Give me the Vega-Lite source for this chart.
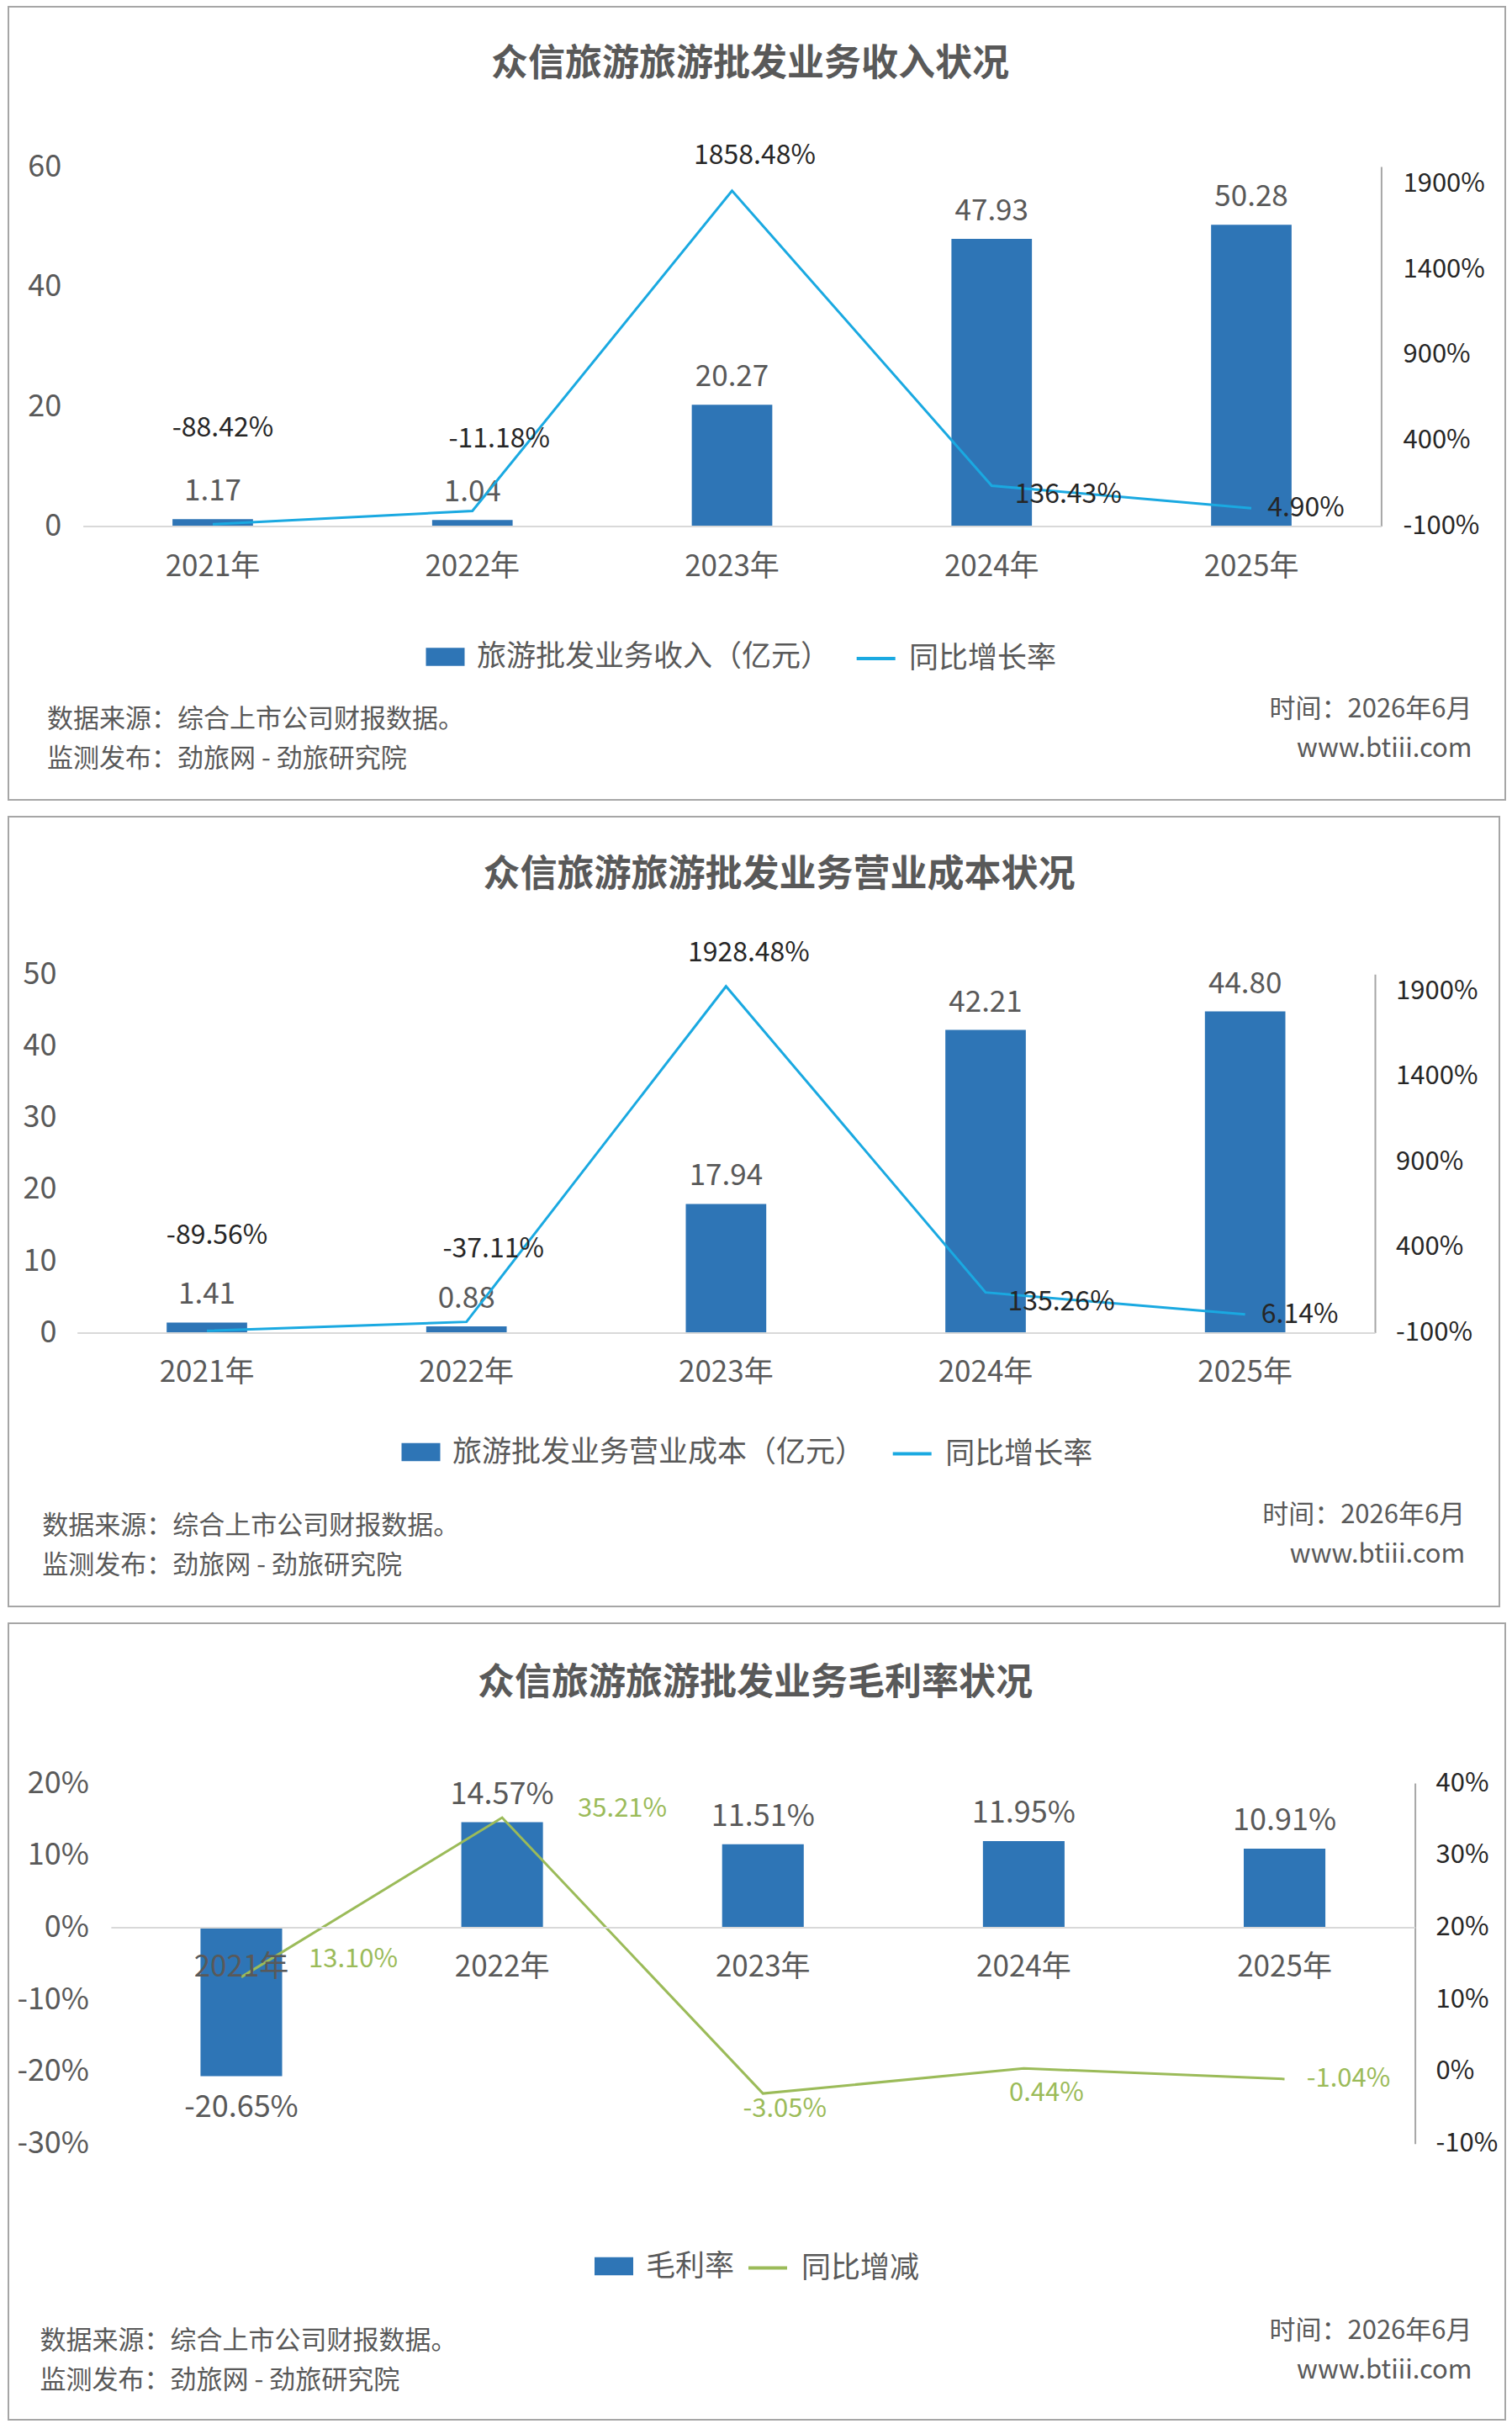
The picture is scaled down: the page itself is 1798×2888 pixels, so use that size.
{
  "$schema": "https://vega.github.io/schema/vega-lite/v6.json",
  "padding": {"left": 9, "top": 7, "right": 4, "bottom": 4},
  "background": "white",
  "config": {
    "font": "Noto Sans CJK SC",
    "view": {"stroke": "#A6A6A6", "strokeWidth": 2, "fill": "white"},
    "locale": {"number": {"decimal": ".", "thousands": ",", "grouping": [3], "currency": ["¥", ""], "minus": "-"}},
    "axis": {"grid": false, "labelFont": "Noto Sans CJK SC", "titleFont": "Noto Sans CJK SC", "labelLimit": 1000, "titleLimit": 1000},
    "legend": {"labelFont": "Noto Sans CJK SC", "labelLimit": 1000},
    "title": {"font": "Noto Sans CJK SC"}
  },
  "datasets": {
    "revenue": [
      {"year": "2021年", "value": 1.17, "rate": -0.8842},
      {"year": "2022年", "value": 1.04, "rate": -0.1118},
      {"year": "2023年", "value": 20.27, "rate": 18.5848},
      {"year": "2024年", "value": 47.93, "rate": 1.3643},
      {"year": "2025年", "value": 50.28, "rate": 0.049}
    ],
    "cost": [
      {"year": "2021年", "value": 1.41, "rate": -0.8956},
      {"year": "2022年", "value": 0.88, "rate": -0.3711},
      {"year": "2023年", "value": 17.94, "rate": 19.2848},
      {"year": "2024年", "value": 42.21, "rate": 1.3526},
      {"year": "2025年", "value": 44.8, "rate": 0.0614}
    ],
    "margin": [
      {"year": "2021年", "value": -0.2065, "rate": 0.131},
      {"year": "2022年", "value": 0.1457, "rate": 0.3521},
      {"year": "2023年", "value": 0.1151, "rate": -0.0305},
      {"year": "2024年", "value": 0.1195, "rate": 0.0044},
      {"year": "2025年", "value": 0.1091, "rate": -0.0104}
    ]
  },
  "spacing": 20,
  "bounds": "flush",
  "resolve": {
    "scale": {"x": "independent", "y": "independent", "fill": "independent", "stroke": "independent"},
    "legend": {"fill": "independent", "stroke": "independent"}
  },
  "vconcat": [
    {
      "width": 1780,
      "height": 943,
      "data": {"name": "revenue"},
      "title": {"text": "众信旅游旅游批发业务收入状况", "fontSize": 44, "fontWeight": "bold", "color": "#595959", "anchor": "middle", "frame": "group", "baseline": "middle", "offset": -113, "dx": -8},
      "encoding": {
        "x": {
          "field": "year", "type": "nominal", "sort": null,
          "scale": {"range": [88.6, 1632.4], "paddingInner": 0, "paddingOuter": 0},
          "axis": {"orient": "bottom", "offset": -325.4, "title": null, "labelFontSize": 35, "labelColor": "#595959", "labelPadding": 48, "labelBaseline": "middle", "labelAngle": 0, "ticks": false, "domain": true, "domainColor": "#D9D9D9", "domainWidth": 2, "zindex": 1}
        }
      },
      "layer": [
        {
          "encoding": {
            "y": {
              "field": "value", "type": "quantitative",
              "scale": {"domain": [0, 60], "range": [617.6, 190], "nice": false, "zero": false},
              "axis": {"orient": "left", "offset": -88.6, "values": [0, 20, 40, 60], "labelPadding": 25.8, "labelFontSize": 36, "labelColor": "#595959", "domain": false, "ticks": false,
                "title": ["数据来源：综合上市公司财报数据。", "监测发布：劲旅网 - 劲旅研究院"], "titleAngle": 0, "titleAlign": "left", "titleBaseline": "middle", "titleX": -43.1, "titleY": 847.2, "titleFontSize": 31, "titleFontWeight": "normal", "titleColor": "#595959", "titleLineHeight": 47}
            }
          },
          "layer": [
            {
              "mark": {"type": "bar", "width": {"band": 0.31}},
              "encoding": {
                "fill": {"datum": "旅游批发业务收入（亿元）", "scale": {"range": ["#2E75B6"]},
                  "legend": {"title": null, "orient": "none", "legendX": 496.5, "legendY": 750, "symbolType": "M-1,-0.467H1V0.467H-1Z", "symbolSize": 2116, "symbolStrokeWidth": 0, "labelFontSize": 35, "labelColor": "#595959", "labelOffset": 14.4, "padding": 0}}
              }
            },
            {
              "mark": {"type": "text", "dy": -33, "fontSize": 35, "color": "#595959"},
              "encoding": {"text": {"field": "value", "format": ".2f"}}
            }
          ]
        },
        {
          "encoding": {
            "y": {
              "field": "rate", "type": "quantitative",
              "scale": {"domain": [-1, 20], "range": [617.6, 190], "nice": false, "zero": false},
              "axis": {"orient": "right", "offset": -147.6, "values": [-1, 4, 9, 14, 19], "format": ".0%", "labelPadding": 25.6, "labelFontSize": 31, "labelColor": "#262626", "domain": true, "domainColor": "#A6A6A6", "domainWidth": 2, "ticks": false,
                "title": ["时间：2026年6月", "www.btiii.com"], "titleAngle": 0, "titleAlign": "right", "titleBaseline": "middle", "titleX": 107.6, "titleY": 835, "titleFontSize": 31, "titleFontWeight": "normal", "titleColor": "#595959", "titleLineHeight": 47}
            }
          },
          "layer": [
            {
              "mark": {"type": "line", "strokeWidth": 3},
              "encoding": {
                "stroke": {"datum": "同比增长率", "scale": {"range": ["#1AA9E1"]},
                  "legend": {"title": null, "orient": "none", "legendX": 1006.7, "legendY": 750, "symbolType": "stroke", "symbolSize": 2116, "symbolStrokeWidth": 4, "labelFontSize": 35, "labelColor": "#595959", "labelOffset": 14.4, "padding": 0}}
              }
            },
            {"transform": [{"filter": "datum.year === '2021年'"}], "mark": {"type": "text", "dx": 12, "dy": -114, "fontSize": 32, "color": "#262626"}, "encoding": {"text": {"field": "rate", "format": ".2%"}}},
            {"transform": [{"filter": "datum.year === '2022年'"}], "mark": {"type": "text", "dx": 32, "dy": -86, "fontSize": 32, "color": "#262626"}, "encoding": {"text": {"field": "rate", "format": ".2%"}}},
            {"transform": [{"filter": "datum.year === '2023年'"}], "mark": {"type": "text", "dx": 27, "dy": -42, "fontSize": 32, "color": "#262626"}, "encoding": {"text": {"field": "rate", "format": ".2%"}}},
            {"transform": [{"filter": "datum.year === '2024年'"}], "mark": {"type": "text", "dx": 91, "dy": 11, "fontSize": 32, "color": "#262626"}, "encoding": {"text": {"field": "rate", "format": ".2%"}}},
            {"transform": [{"filter": "datum.year === '2025年'"}], "mark": {"type": "text", "dx": 65, "dy": 0, "fontSize": 32, "color": "#262626"}, "encoding": {"text": {"field": "rate", "format": ".2%"}}}
          ]
        }
      ],
      "resolve": {"scale": {"y": "independent"}}
    },
    {
      "width": 1773,
      "height": 939,
      "data": {"name": "cost"},
      "title": {"text": "众信旅游旅游批发业务营业成本状况", "fontSize": 44, "fontWeight": "bold", "color": "#595959", "anchor": "middle", "frame": "group", "baseline": "middle", "offset": -113.5, "dx": 30},
      "encoding": {
        "x": {
          "field": "year", "type": "nominal", "sort": null,
          "scale": {"range": [81.7, 1625], "paddingInner": 0, "paddingOuter": 0},
          "axis": {"orient": "bottom", "offset": -325.6, "title": null, "labelFontSize": 35, "labelColor": "#595959", "labelPadding": 47, "labelBaseline": "middle", "labelAngle": 0, "ticks": false, "domain": true, "domainColor": "#D9D9D9", "domainWidth": 2, "zindex": 1}
        }
      },
      "layer": [
        {
          "encoding": {
            "y": {
              "field": "value", "type": "quantitative",
              "scale": {"domain": [0, 50], "range": [613.4, 187.2], "nice": false, "zero": false},
              "axis": {"orient": "left", "offset": -81.7, "values": [0, 10, 20, 30, 40, 50], "labelPadding": 24.7, "labelFontSize": 36, "labelColor": "#595959", "domain": false, "ticks": false,
                "title": ["数据来源：综合上市公司财报数据。", "监测发布：劲旅网 - 劲旅研究院"], "titleAngle": 0, "titleAlign": "left", "titleBaseline": "middle", "titleX": -41.9, "titleY": 843, "titleFontSize": 31, "titleFontWeight": "normal", "titleColor": "#595959", "titleLineHeight": 47}
            }
          },
          "layer": [
            {
              "mark": {"type": "bar", "width": {"band": 0.31}},
              "encoding": {
                "fill": {"datum": "旅游批发业务营业成本（亿元）", "scale": {"range": ["#2E75B6"]},
                  "legend": {"title": null, "orient": "none", "legendX": 467.5, "legendY": 732.5, "symbolType": "M-1,-0.467H1V0.467H-1Z", "symbolSize": 2116, "symbolStrokeWidth": 0, "labelFontSize": 35, "labelColor": "#595959", "labelOffset": 14.5, "padding": 0}}
              }
            },
            {
              "mark": {"type": "text", "dy": -33, "fontSize": 35, "color": "#595959"},
              "encoding": {"text": {"field": "value", "format": ".2f"}}
            }
          ]
        },
        {
          "encoding": {
            "y": {
              "field": "rate", "type": "quantitative",
              "scale": {"domain": [-1, 20], "range": [613.4, 187.2], "nice": false, "zero": false},
              "axis": {"orient": "right", "offset": -148, "values": [-1, 4, 9, 14, 19], "format": ".0%", "labelPadding": 24.6, "labelFontSize": 31, "labelColor": "#262626", "domain": true, "domainColor": "#A6A6A6", "domainWidth": 2, "ticks": false,
                "title": ["时间：2026年6月", "www.btiii.com"], "titleAngle": 0, "titleAlign": "right", "titleBaseline": "middle", "titleX": 106.7, "titleY": 830, "titleFontSize": 31, "titleFontWeight": "normal", "titleColor": "#595959", "titleLineHeight": 47}
            }
          },
          "layer": [
            {
              "mark": {"type": "line", "strokeWidth": 3},
              "encoding": {
                "stroke": {"datum": "同比增长率", "scale": {"range": ["#1AA9E1"]},
                  "legend": {"title": null, "orient": "none", "legendX": 1049.7, "legendY": 732.5, "symbolType": "stroke", "symbolSize": 2116, "symbolStrokeWidth": 4, "labelFontSize": 35, "labelColor": "#595959", "labelOffset": 14.5, "padding": 0}}
              }
            },
            {"transform": [{"filter": "datum.year === '2021年'"}], "mark": {"type": "text", "dx": 12, "dy": -113, "fontSize": 32, "color": "#262626"}, "encoding": {"text": {"field": "rate", "format": ".2%"}}},
            {"transform": [{"filter": "datum.year === '2022年'"}], "mark": {"type": "text", "dx": 32, "dy": -87, "fontSize": 32, "color": "#262626"}, "encoding": {"text": {"field": "rate", "format": ".2%"}}},
            {"transform": [{"filter": "datum.year === '2023年'"}], "mark": {"type": "text", "dx": 27, "dy": -40, "fontSize": 32, "color": "#262626"}, "encoding": {"text": {"field": "rate", "format": ".2%"}}},
            {"transform": [{"filter": "datum.year === '2024年'"}], "mark": {"type": "text", "dx": 90, "dy": 11, "fontSize": 32, "color": "#262626"}, "encoding": {"text": {"field": "rate", "format": ".2%"}}},
            {"transform": [{"filter": "datum.year === '2025年'"}], "mark": {"type": "text", "dx": 65, "dy": 0, "fontSize": 32, "color": "#262626"}, "encoding": {"text": {"field": "rate", "format": ".2%"}}}
          ]
        }
      ],
      "resolve": {"scale": {"y": "independent"}}
    },
    {
      "width": 1780,
      "height": 947,
      "data": {"name": "margin"},
      "title": {"text": "众信旅游旅游批发业务毛利率状况", "fontSize": 44, "fontWeight": "bold", "color": "#595959", "anchor": "middle", "frame": "group", "baseline": "middle", "offset": -116.4, "dx": -2},
      "encoding": {
        "x": {
          "field": "year", "type": "nominal", "sort": null,
          "scale": {"range": [121.9, 1672.6], "paddingInner": 0, "paddingOuter": 0},
          "axis": {"orient": "bottom", "offset": -585.5, "title": null, "labelFontSize": 35, "labelColor": "#595959", "labelPadding": 46.5, "labelBaseline": "middle", "labelAngle": 0, "ticks": false, "domain": true, "domainColor": "#D9D9D9", "domainWidth": 2, "zindex": 1}
        }
      },
      "layer": [
        {
          "encoding": {
            "y": {
              "field": "value", "type": "quantitative",
              "scale": {"domain": [-0.3, 0.2], "range": [618.7, 190], "nice": false, "zero": false},
              "axis": {"orient": "left", "offset": -121.9, "values": [-0.3, -0.2, -0.1, 0, 0.1, 0.2], "format": ".0%", "labelPadding": 26.4, "labelFontSize": 36, "labelColor": "#595959", "domain": false, "ticks": false,
                "title": ["数据来源：综合上市公司财报数据。", "监测发布：劲旅网 - 劲旅研究院"], "titleAngle": 0, "titleAlign": "left", "titleBaseline": "middle", "titleX": -84.9, "titleY": 853, "titleFontSize": 31, "titleFontWeight": "normal", "titleColor": "#595959", "titleLineHeight": 47}
            }
          },
          "layer": [
            {
              "mark": {"type": "bar", "width": {"band": 0.313}},
              "encoding": {
                "fill": {"datum": "毛利率", "scale": {"range": ["#2E75B6"]},
                  "legend": {"title": null, "orient": "none", "legendX": 697, "legendY": 741.5, "symbolType": "M-1,-0.467H1V0.467H-1Z", "symbolSize": 2116, "symbolStrokeWidth": 0, "labelFontSize": 35, "labelColor": "#595959", "labelOffset": 15, "padding": 0}}
              }
            },
            {
              "transform": [{"filter": "datum.value >= 0"}],
              "mark": {"type": "text", "dy": -33, "fontSize": 36, "color": "#595959"},
              "encoding": {"text": {"field": "value", "format": ".2%"}}
            },
            {
              "transform": [{"filter": "datum.value < 0"}],
              "mark": {"type": "text", "dy": 37, "fontSize": 36, "color": "#595959"},
              "encoding": {"text": {"field": "value", "format": ".2%"}}
            }
          ]
        },
        {
          "encoding": {
            "y": {
              "field": "rate", "type": "quantitative",
              "scale": {"domain": [-0.1, 0.4], "range": [618.7, 190], "nice": false, "zero": false},
              "axis": {"orient": "right", "offset": -107.4, "values": [-0.1, 0, 0.1, 0.2, 0.3, 0.4], "format": ".0%", "labelPadding": 24.4, "labelFontSize": 31, "labelColor": "#262626", "domain": true, "domainColor": "#A6A6A6", "domainWidth": 2, "ticks": false,
                "title": ["时间：2026年6月", "www.btiii.com"], "titleAngle": 0, "titleAlign": "right", "titleBaseline": "middle", "titleX": 67.4, "titleY": 841, "titleFontSize": 31, "titleFontWeight": "normal", "titleColor": "#595959", "titleLineHeight": 47}
            }
          },
          "layer": [
            {
              "mark": {"type": "line", "strokeWidth": 3},
              "encoding": {
                "stroke": {"datum": "同比增减", "scale": {"range": ["#9BBB59"]},
                  "legend": {"title": null, "orient": "none", "legendX": 878, "legendY": 741.5, "symbolType": "stroke", "symbolSize": 2116, "symbolStrokeWidth": 4, "labelFontSize": 35, "labelColor": "#595959", "labelOffset": 15, "padding": 0}}
              }
            },
            {"transform": [{"filter": "datum.year === '2021年'"}], "mark": {"type": "text", "dx": 133, "dy": -21, "fontSize": 31, "color": "#9BBB59"}, "encoding": {"text": {"field": "rate", "format": ".2%"}}},
            {"transform": [{"filter": "datum.year === '2022年'"}], "mark": {"type": "text", "dx": 143, "dy": -10, "fontSize": 31, "color": "#9BBB59"}, "encoding": {"text": {"field": "rate", "format": ".2%"}}},
            {"transform": [{"filter": "datum.year === '2023年'"}], "mark": {"type": "text", "dx": 26, "dy": 19, "fontSize": 31, "color": "#9BBB59"}, "encoding": {"text": {"field": "rate", "format": ".2%"}}},
            {"transform": [{"filter": "datum.year === '2024年'"}], "mark": {"type": "text", "dx": 27, "dy": 30, "fontSize": 31, "color": "#9BBB59"}, "encoding": {"text": {"field": "rate", "format": ".2%"}}},
            {"transform": [{"filter": "datum.year === '2025年'"}], "mark": {"type": "text", "dx": 76, "dy": 0, "fontSize": 31, "color": "#9BBB59"}, "encoding": {"text": {"field": "rate", "format": ".2%"}}}
          ]
        }
      ],
      "resolve": {"scale": {"y": "independent"}}
    }
  ]
}
